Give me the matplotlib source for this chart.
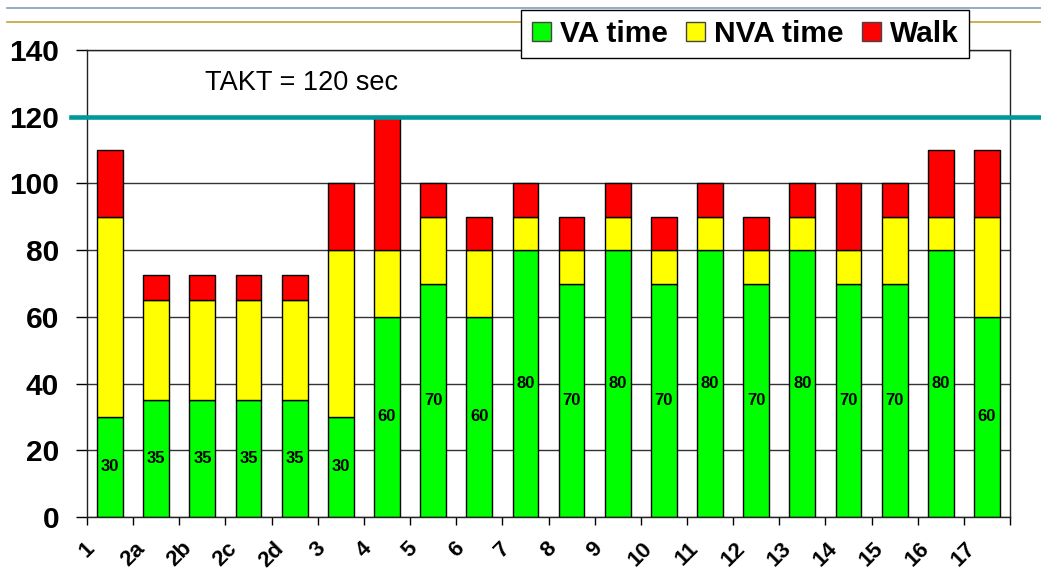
import numpy as np
import matplotlib
matplotlib.use("Agg")
import matplotlib.pyplot as plt
from matplotlib.lines import Line2D

plt.rcParams['font.family'] = ['Liberation Sans', 'DejaVu Sans']

# data
stations = ["1", "2a", "2b", "2c", "2d", "3", "4", "5", "6", "7", "8", "9",
            "10", "11", "12", "13", "14", "15", "16", "17"]
va_time = [30, 35, 35, 35, 35, 30, 60, 70, 60, 80, 70, 80, 70, 80, 70, 80, 70, 70, 80, 60]
nva_time = [60, 30, 30, 30, 30, 50, 20, 20, 20, 10, 10, 10, 10, 10, 10, 10, 10, 20, 10, 30]
walk = [20, 7.5, 7.5, 7.5, 7.5, 20, 40, 10, 10, 10, 10, 10, 10, 10, 10, 10, 20, 10, 20, 20]
takt = 120

va = np.array(va_time)
nva = np.array(nva_time)
wk = np.array(walk)
x = np.arange(len(stations))

fig = plt.figure(figsize=(10.41, 5.73), dpi=100)
ax = fig.add_axes([0.0836, 0.0977, 0.8866, 0.815])

# horizontal grid behind bars
ax.set_axisbelow(True)
ax.yaxis.grid(True, color='#333333', linewidth=1)

bw = 0.56
b1 = ax.bar(x, va, bw, color='#00FF00', edgecolor='black', linewidth=1, label='VA time')
b2 = ax.bar(x, nva, bw, bottom=va, color='#FFFF00', edgecolor='black', linewidth=1, label='NVA time')
b3 = ax.bar(x, wk, bw, bottom=va + nva, color='#FF0000', edgecolor='black', linewidth=1, label='Walk')

# value labels in the green segments
for xi, v in zip(x, va):
    ax.text(xi, v / 2, str(v), ha='center', va='center', fontsize=12, fontweight='bold')

# takt line, runs past both sides of the plot
ax.axhline(takt, xmin=-0.017, xmax=1.06, color='#009999', linewidth=3.3, clip_on=False, zorder=5)
ax.text(4.15, 130, "TAKT = %d sec" % takt, ha='center', va='center', fontsize=19.5)

ax.set_xlim(-0.5, len(stations) - 0.5)
ax.set_ylim(0, 140)
ax.set_yticks(np.arange(0, 141, 20))
ax.tick_params(axis='y', labelsize=21.5, length=8, width=1, pad=12, direction='out')
for lab in ax.get_yticklabels():
    lab.set_fontweight('bold')

# category labels sit on the boundary ticks
ax.set_xticks(np.arange(len(stations) + 1) - 0.5)
ax.set_xticklabels(stations + [""], rotation=45, ha='center', fontsize=16, fontweight='bold')
ax.tick_params(axis='x', length=6, width=1, pad=9, direction='out')

for s in ax.spines.values():
    s.set_color('#222222')
    s.set_linewidth(1)

leg = fig.legend(handles=[b1, b2, b3], loc='center', bbox_to_anchor=(0.716, 0.9407), ncol=3,
                 frameon=True, fancybox=False, framealpha=1, edgecolor='black',
                 prop={'size': 21.5, 'weight': 'bold'}, handlelength=0.65, handleheight=0.65,
                 handletextpad=0.3, columnspacing=0.6, borderpad=0.35, borderaxespad=0)
leg.get_frame().set_linewidth(1)
leg.set_zorder(10)
for h in leg.legend_handles:
    h.set_edgecolor('#444444')

# slide header lines
fig.add_artist(Line2D([7 / 1041, 1], [1 - 7.5 / 573] * 2, color='#7F9FBF', linewidth=1.2, zorder=0))
fig.add_artist(Line2D([7 / 1041, 1], [1 - 22 / 573] * 2, color='#C8A032', linewidth=1.2, zorder=0))

fig.savefig("out.png", dpi=100)
